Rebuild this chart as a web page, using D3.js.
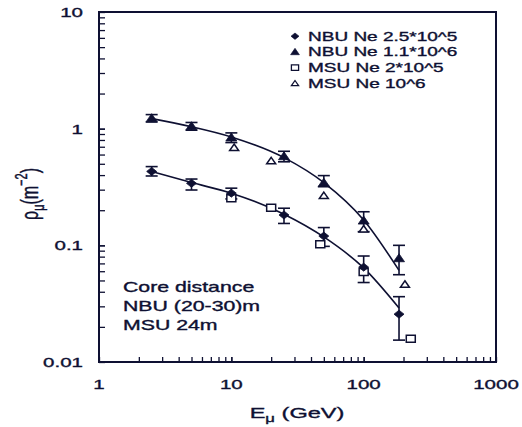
<!DOCTYPE html>
<html><head><meta charset="utf-8">
<script src="https://cdn.jsdelivr.net/npm/d3@7/dist/d3.min.js"></script>
<style>
html,body{margin:0;padding:0;background:#fff;}
svg{display:block;font-family:"Liberation Sans",Arial,sans-serif;}
</style></head>
<body><svg id="chart" width="522" height="427"></svg>
<script>
// ---- data ----
const nbuLowE    = [2.5, 5, 10, 25, 50, 100, 185];
const nbuLowRho  = [0.43, 0.34, 0.28, 0.182, 0.12, 0.065, 0.0257];
const nbuLowHi   = [0.473, 0.37, 0.309, 0.208, 0.142, 0.081, 0.0363];
const nbuLowLo   = [0.393, 0.298, 0.25, 0.154, 0.098, 0.048, 0.0154];

const nbuHighE   = [2.5, 5, 10, 25, 50, 100, 185];
const nbuHighRho = [1.23, 1.05, 0.84, 0.58, 0.344, 0.163, 0.0775];
const nbuHighHi  = [1.32, 1.13, 0.92, 0.64, 0.396, 0.194, 0.1];
const nbuHighLo  = [1.14, 0.97, 0.76, 0.52, 0.318, 0.131, 0.056];

const msuLowE    = [10, 20, 47, 100, 227];
const msuLowRho  = [0.253, 0.21, 0.102, 0.059, 0.0158];

const msuHighE   = [10.5, 20, 50, 100, 205];
const msuHighRho = [0.69, 0.53, 0.267, 0.138, 0.0464];

const fitE       = [2.5, 5, 10, 25, 50, 100, 185];
const fitHigh    = [1.22, 1.04, 0.85, 0.565, 0.345, 0.165, 0.061];
const fitLow     = [0.43, 0.345, 0.28, 0.185, 0.118, 0.064, 0.029];

const xTickLabels = ["1", "10", "100", "1000"];
const xTickValues = [1, 10, 100, 1000];
const yTickLabels = ["10", "1", "0.1", "0.01"];
const yTickValues = [10, 1, 0.1, 0.01];

const legendLabels = ["NBU Ne 2.5*10^5", "NBU Ne 1.1*10^6", "MSU Ne 2*10^5", "MSU Ne 10^6"];
const noteLines = ["Core distance", "NBU (20-30)m", "MSU 24m"];

// ---- drawing ----
const C = "#0e1032";
const SX = 1.52; // horizontal stretch of the original picture
const svg = d3.select("#chart");
const x = d3.scaleLog().domain([1, 1000]).range([99, 496]);
const y = d3.scaleLog().domain([0.01, 10]).range([362, 12]);

function minorTicks(lo, hi) {
  const t = [];
  for (let d = lo; d < hi; d *= 10) for (let k = 1; k <= 10; k++) t.push(d * k);
  return t;
}

// axes with inward ticks
const gx = svg.append("g").attr("transform", `translate(0,${y(0.01)})`)
  .call(d3.axisBottom(x).tickValues(minorTicks(1, 1000)).tickSizeInner(-5).tickSizeOuter(0).tickFormat(""));
const gy = svg.append("g").attr("transform", `translate(${x(1)},0)`)
  .call(d3.axisLeft(y).tickValues(minorTicks(0.01, 10)).tickSizeInner(-6).tickSizeOuter(0).tickFormat(""));
[gx, gy].forEach(g => {
  g.selectAll("path").remove();
  g.selectAll("line").attr("stroke", C).attr("stroke-width", 1.3);
});

// frame
svg.append("rect").attr("x", x(1)).attr("y", y(10))
  .attr("width", x(1000) - x(1)).attr("height", y(0.01) - y(10))
  .attr("fill", "none").attr("stroke", C).attr("stroke-width", 2);

function stretchedText(px, py, txt, size, anchor) {
  return svg.append("text")
    .attr("transform", `translate(${px},${py}) scale(${SX},1)`)
    .attr("text-anchor", anchor || "start")
    .attr("font-size", size).attr("fill", C)
    .attr("stroke", C).attr("stroke-width", 0.35)
    .text(txt);
}

// tick labels
xTickValues.forEach((v, i) => stretchedText(x(v), 389, xTickLabels[i], 13.5, "middle"));
yTickValues.forEach((v, i) => stretchedText(83, y(v) + 5, yTickLabels[i], 13.5, "end"));

// axis titles
const xt = svg.append("text")
  .attr("transform", `translate(297,418) scale(${SX},1)`)
  .attr("text-anchor", "middle").attr("font-size", 15.5).attr("fill", C)
  .attr("stroke", C).attr("stroke-width", 0.35);
xt.append("tspan").text("E");
xt.append("tspan").attr("font-size", 11).attr("dy", 4).text("\u03bc");
xt.append("tspan").attr("dy", -4).text(" (GeV)");

const yt = svg.append("text")
  .attr("transform", `translate(38,194) rotate(-90) scale(1,${SX})`)
  .attr("text-anchor", "middle").attr("font-size", 16).attr("fill", C)
  .attr("stroke", C).attr("stroke-width", 0.3);
yt.append("tspan").text("\u03c1");
yt.append("tspan").attr("font-size", 11).attr("dy", 4).text("\u03bc");
yt.append("tspan").attr("dy", -4).text("(m");
yt.append("tspan").attr("font-size", 11).attr("dy", -7).text("\u22122");
yt.append("tspan").attr("dy", 7).text(")");

// fit curves
const line = d3.line().x(d => x(d[0])).y(d => y(d[1])).curve(d3.curveMonotoneX);
[fitHigh, fitLow].forEach(arr => {
  svg.append("path").datum(fitE.map((e, i) => [e, arr[i]]))
    .attr("d", line).attr("fill", "none").attr("stroke", C).attr("stroke-width", 1.6);
});

// error bars
function errorBars(E, hi, lo) {
  const g = svg.append("g").attr("stroke", C).attr("stroke-width", 1.6);
  E.forEach((e, i) => {
    const cx = x(e);
    g.append("line").attr("x1", cx).attr("x2", cx).attr("y1", y(hi[i])).attr("y2", y(lo[i]));
    g.append("line").attr("x1", cx - 6).attr("x2", cx + 6).attr("y1", y(hi[i])).attr("y2", y(hi[i]));
    g.append("line").attr("x1", cx - 6).attr("x2", cx + 6).attr("y1", y(lo[i])).attr("y2", y(lo[i]));
  });
}
errorBars(nbuLowE, nbuLowHi, nbuLowLo);
errorBars(nbuHighE, nbuHighHi, nbuHighLo);

// marker shapes (centred at 0,0)
const shapes = {
  diamond: "M0,-4 L5,0 L0,4 L-5,0 Z",
  triFill: "M0,-4.5 L5.5,3.5 L-5.5,3.5 Z",
  square: "M-4.5,-3.5 L4.5,-3.5 L4.5,3.5 L-4.5,3.5 Z",
  triOpen: "M0,-3.5 L4.5,3 L-4.5,3 Z"
};
function markers(E, R, shape, filled) {
  svg.append("g").selectAll("path").data(E.map((e, i) => [e, R[i]])).join("path")
    .attr("transform", d => `translate(${x(d[0])},${y(d[1])})`)
    .attr("d", shapes[shape])
    .attr("fill", filled ? C : "#fff").attr("stroke", C).attr("stroke-width", filled ? 0.8 : 1.5);
}
markers(msuLowE, msuLowRho, "square", false);
markers(msuHighE, msuHighRho, "triOpen", false);
markers(nbuLowE, nbuLowRho, "diamond", true);
markers(nbuHighE, nbuHighRho, "triFill", true);

// legend
const legShapes = [["diamond", true], ["triFill", true], ["square", false], ["triOpen", false]];
legendLabels.forEach((lab, i) => {
  const by = 40.7 + i * 15.7;
  svg.append("path").attr("transform", `translate(295,${by - 4.5}) scale(0.8)`)
    .attr("d", shapes[legShapes[i][0]])
    .attr("fill", legShapes[i][1] ? C : "#fff").attr("stroke", C)
    .attr("stroke-width", legShapes[i][1] ? 0.8 : 1.6);
  stretchedText(308, by, lab, 12.5);
});

// note
noteLines.forEach((t, i) => stretchedText(123, 291.5 + i * 19.3, t, 14));
</script></body></html>
